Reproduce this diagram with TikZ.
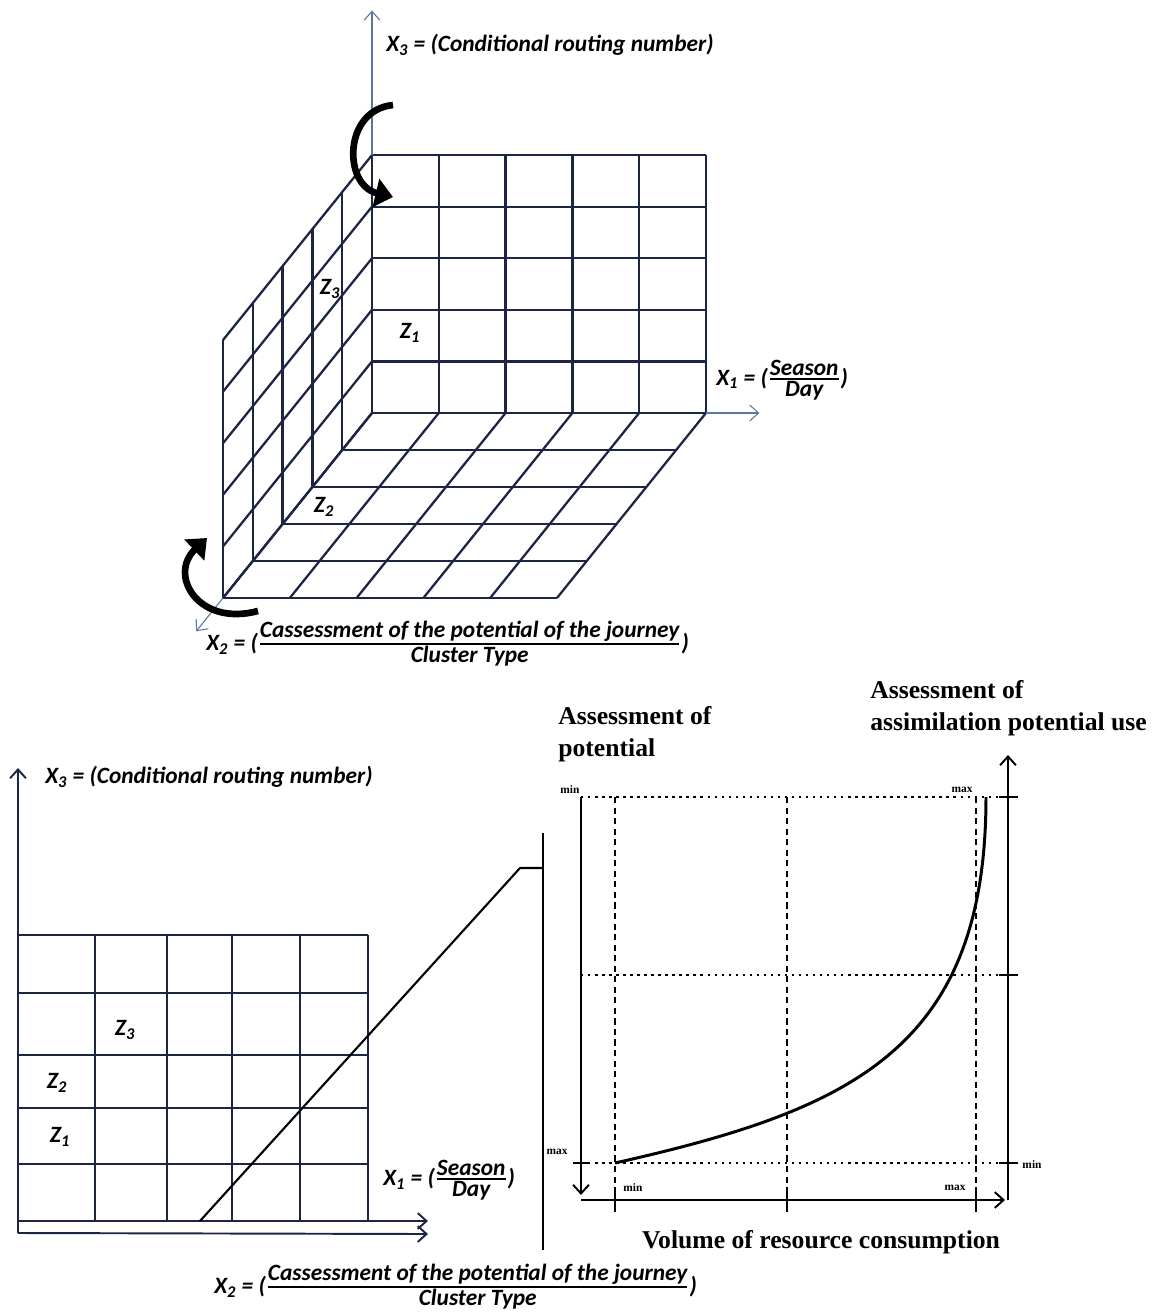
\documentclass[tikz,border=0pt]{standalone}
\usepackage{amsmath}
\usepackage{fontspec}
\setmainfont{Liberation Serif}
\newfontfamily\axisfont{Carlito}
\usepackage{xcolor}
\usepackage{tikz}
\usetikzlibrary{arrows.meta}

\definecolor{gridnavy}{RGB}{28,38,68}
\definecolor{axisblue}{RGB}{88,118,160}
\newcommand{\stackfrac}[2]{$\genfrac{}{}{0.9pt}{}{\mbox{#1}}{\mbox{#2}}$}

\begin{document}
\begin{tikzpicture}[x=0.02cm, y=-0.02cm,
  gridline/.style={draw=gridnavy, line width=1.3pt},
  axis/.style={draw=axisblue, line width=0.6pt, -{Straight Barb[length=5pt,width=9pt]}},
  darkaxis/.style={draw=gridnavy, line width=1.1pt, -{Straight Barb[length=5pt,width=9pt]}},
  turn/.style={line width=3.8pt, -{Triangle[length=10pt,width=16pt]}},
  lbl/.style={font=\axisfont\bfseries\itshape\fontsize{13.3}{15}\selectfont, inner sep=0pt},
  chartaxis/.style={line width=1.1pt, -{Straight Barb[length=5pt,width=9pt]}},
  dotline/.style={line width=1.4pt, dash pattern=on 1.4pt off 2.6pt},
  dashline/.style={line width=1.3pt, dash pattern=on 3.5pt off 2.5pt},
  tick/.style={line width=1.3pt},
  tiny/.style={font=\bfseries\fontsize{6.5}{7}\selectfont, inner sep=0pt},
  ttl/.style={font=\bfseries\fontsize{14.6}{18}\selectfont, inner sep=0pt}
]
\useasboundingbox (0,0) rectangle (1159,1316);

\begin{scope}[shift={(372,413)}, x={(1.336cm,0cm)}, y={(-0.596cm,-0.74cm)}, z={(0cm,1.032cm)}]
  \foreach \i in {0,...,5} {
    \draw[gridline] (\i,0,0) -- (\i,0,5);
    \draw[gridline] (0,0,\i) -- (5,0,\i);
    \draw[gridline] (\i,0,0) -- (\i,5,0);
    \draw[gridline] (0,\i,0) -- (5,\i,0);
    \draw[gridline] (0,\i,0) -- (0,\i,5);
    \draw[gridline] (0,0,\i) -- (0,5,\i);
  }
  \coordinate (x3base) at (0,0,5);
  \coordinate (x3tip) at (0,0,7.8);
  \coordinate (x1base) at (5,0,0);
  \coordinate (x1tip) at (5.8,0,0);
  \coordinate (x2base) at (0,5,0);
  \coordinate (x2tip) at (0,5.9,0);
\end{scope}
\draw[axis] (x3base) -- (x3tip);
\draw[axis] (x1base) -- (x1tip);
\draw[axis] (x2base) -- (x2tip);

\coordinate (turnAs) at (393,105);
\coordinate (turnAe) at (393,197);
\draw[turn] (turnAs) .. controls (343,110) and (343,185) .. (turnAe);
\coordinate (turnBs) at (258,611);
\coordinate (turnBe) at (207,538);
\draw[turn] (turnBs) .. controls (198,627) and (168,575) .. (turnBe);

\node[lbl, anchor=west] (x3top) at (386,45) {X\textsubscript{3} = (Conditional routing number)};
\node[lbl, anchor=west] (x1top) at (716,380) {X\textsubscript{1} = (\stackfrac{Season}{Day})};
\node[lbl, anchor=west] (x2top) at (206,644) {X\textsubscript{2} = (\stackfrac{Cassessment of the potential of the journey}{Cluster Type})};
\node[lbl] (z3top) at (330,289) {Z\textsubscript{3}};
\node[lbl] (z1top) at (410,333) {Z\textsubscript{1}};
\node[lbl] (z2top) at (324,507) {Z\textsubscript{2}};

\foreach \x in {18,95,167,232,300,368} \draw[gridline] (\x,935) -- (\x,1221);
\foreach \y in {935,993,1055,1108,1164} \draw[gridline] (18,\y) -- (368,\y);
\coordinate (bx3base) at (18,1233);
\coordinate (bx3tip) at (18,768);
\coordinate (bx1base) at (18,1221);
\coordinate (bx1tip) at (428,1221);
\coordinate (bx2base) at (18,1233);
\coordinate (bx2tip) at (428,1234);
\draw[darkaxis] (bx3base) -- (bx3tip);
\draw[darkaxis] (bx1base) -- (bx1tip);
\draw[darkaxis] (bx2base) -- (bx2tip);

\coordinate (zoomA) at (200,1221);
\coordinate (zoomB) at (520,868);
\coordinate (zoomC) at (543,868);
\coordinate (barT) at (543,833);
\coordinate (barB) at (543,1250);
\draw[line width=1.2pt] (zoomA) -- (zoomB) -- (zoomC);
\draw[line width=1.3pt] (barT) -- (barB);

\node[lbl, anchor=west] (x3bot) at (45,777) {X\textsubscript{3} = (Conditional routing number)};
\node[lbl, anchor=west] (x1bot) at (383,1180) {X\textsubscript{1} = (\stackfrac{Season}{Day})};
\node[lbl, anchor=west] (x2bot) at (214,1287) {X\textsubscript{2} = (\stackfrac{Cassessment of the potential of the journey}{Cluster Type})};
\node[lbl] (z3bot) at (125,1030) {Z\textsubscript{3}};
\node[lbl] (z2bot) at (57,1083) {Z\textsubscript{2}};
\node[lbl] (z1bot) at (60,1137) {Z\textsubscript{1}};

\coordinate (leftT) at (581,797);
\coordinate (leftB) at (581,1195);
\coordinate (baseL) at (581,1200);
\coordinate (baseR) at (1005,1200);
\coordinate (rightB) at (1008,1200);
\coordinate (rightT) at (1008,755);
\draw[chartaxis] (leftT) -- (leftB);
\draw[chartaxis] (baseL) -- (baseR);
\draw[chartaxis] (rightB) -- (rightT);
\foreach \y in {797,975,1163} \draw[dotline] (581,\y) -- (1016,\y);
\foreach \x in {615,787,976} \draw[dashline] (\x,797) -- (\x,1212);
\foreach \y in {797,975,1163} \draw[tick] (999,\y) -- (1018,\y);
\draw[tick] (573,1163) -- (590,1163);
\foreach \x in {615,787,976} \draw[tick] (\x,1188) -- (\x,1212);

\coordinate (curveS) at (615,1163);
\coordinate (curveE) at (986,797);
\draw[line width=1.7pt] (curveS) .. controls (850,1110) and (986,1050) .. (curveE);

\node[tiny] (minTL) at (570,790) {min};
\node[tiny] (maxTR) at (962,790) {max};
\node[tiny] (maxL) at (557,1152) {max};
\node[tiny] (minR) at (1032,1165) {min};
\node[tiny] (minB) at (633,1188) {min};
\node[tiny] (maxB) at (955,1188) {max};

\node[ttl, anchor=north west, align=left] (potlabel) at (558,706) {Assessment of\\potential};
\node[ttl, anchor=north west, align=left] (uselabel) at (870,680) {Assessment of\\assimilation potential use};
\node[ttl] (vollabel) at (821,1242) {Volume of resource consumption};
\end{tikzpicture}
\end{document}
